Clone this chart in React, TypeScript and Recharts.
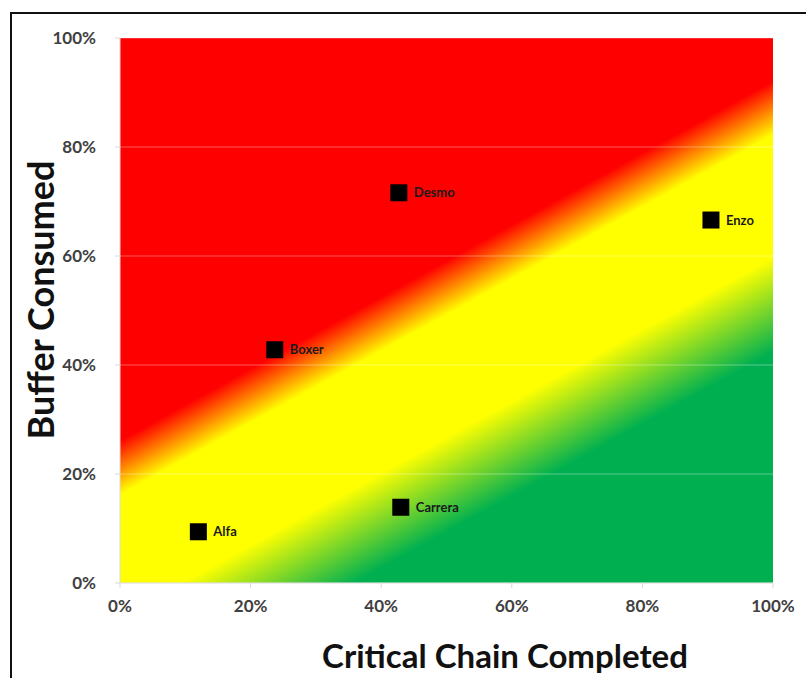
import { ScatterChart, Scatter, XAxis, YAxis, CartesianGrid } from "recharts"

const projects = ["Alfa", "Boxer", "Carrera", "Desmo", "Enzo"]
const chainCompleted = [12, 23.7, 43, 42.7, 90.5]
const bufferConsumed = [9.4, 42.8, 13.9, 71.6, 66.6]
const percentTicks = [0, 20, 40, 60, 80, 100]

const data = projects.map((name, i) => ({
  name,
  x: chainCompleted[i],
  y: bufferConsumed[i],
}))

const tickStyle = { fill: "#404040", fontSize: 17, fontWeight: 700, fontFamily: "Lato" }

function ProjectMarker(props: any) {
  const { cx, cy, payload } = props
  return (
    <g>
      <rect x={cx - 8.5} y={cy - 8.5} width={17} height={17} fill="#000" />
      <text x={cx + 15} y={cy + 4.5} fontSize={13} fontWeight={700} fontFamily="Lato" fill="#1a1a1a">
        {payload.name}
      </text>
    </g>
  )
}

export default function App() {
  return (
    <div style={{ position: "absolute", left: 0, top: 0, width: 806, height: 678, background: "#fff", overflow: "hidden" }}>
      <div
        style={{
          position: "absolute",
          left: 10,
          top: 12,
          width: 820,
          height: 700,
          borderLeft: "2px solid #111",
          borderTop: "2px solid #111",
        }}
      />
      <ScatterChart
        width={806}
        height={678}
        margin={{ top: 38, right: 33, bottom: 65, left: 0 }}
        style={{ position: "absolute", left: 0, top: 0 }}
      >
        <defs>
          <linearGradient id="zone" x1="0" y1="0" x2="0.763" y2="1.156">
            <stop offset="0.445" stopColor="#FF0000" />
            <stop offset="0.505" stopColor="#FFFF00" />
            <stop offset="0.64" stopColor="#FFFF00" />
            <stop offset="0.745" stopColor="#00B050" />
          </linearGradient>
        </defs>
        <CartesianGrid vertical={false} fill="url(#zone)" fillOpacity={1} stroke="#ffffff" strokeOpacity={0.35} />
        <XAxis
          type="number"
          dataKey="x"
          domain={[0, 100]}
          ticks={percentTicks}
          tickFormatter={(v) => `${v}%`}
          height={30}
          tick={tickStyle}
          tickSize={5}
          tickMargin={12}
          axisLine={{ stroke: "#d9d9d9" }}
          tickLine={{ stroke: "#d9d9d9" }}
        />
        <YAxis
          type="number"
          dataKey="y"
          domain={[0, 100]}
          ticks={percentTicks}
          tickFormatter={(v) => `${v}%`}
          width={120}
          tick={tickStyle}
          tickSize={5}
          tickMargin={19}
          axisLine={{ stroke: "#d9d9d9" }}
          tickLine={{ stroke: "#d9d9d9" }}
        />
        <Scatter data={data} shape={ProjectMarker} isAnimationActive={false} />
      </ScatterChart>
      <div
        style={{
          position: "absolute",
          left: 40,
          top: 300,
          transform: "translate(-50%, -50%) rotate(-90deg)",
          whiteSpace: "nowrap",
          fontFamily: "Lato",
          fontWeight: 700,
          fontSize: 36,
          color: "#111",
        }}
      >
        Buffer Consumed
      </div>
      <div
        style={{
          position: "absolute",
          left: 505,
          top: 655,
          transform: "translate(-50%, -50%)",
          whiteSpace: "nowrap",
          fontFamily: "Lato",
          fontWeight: 700,
          fontSize: 33,
          color: "#111",
        }}
      >
        Critical Chain Completed
      </div>
    </div>
  )
}
